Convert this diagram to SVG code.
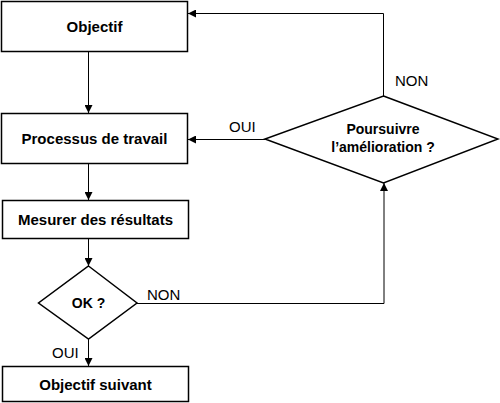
<svg xmlns="http://www.w3.org/2000/svg" width="500" height="403" viewBox="0 0 500 403">
<style>
.box{fill:#fff;stroke:#000;stroke-width:1.5}
.t{font-family:"Liberation Sans",Arial,sans-serif;font-weight:bold;font-size:15px;text-anchor:middle;fill:#000}
.td{font-family:"Liberation Sans",Arial,sans-serif;font-weight:bold;font-size:14px;text-anchor:middle;fill:#000}
.l{font-family:"Liberation Sans",Arial,sans-serif;font-size:15px;fill:#000}
.c{fill:none;stroke:#000;stroke-width:1}
</style>
<defs>
<marker id="ah" viewBox="0 0 10 10" refX="10" refY="5" markerWidth="8" markerHeight="8" markerUnits="userSpaceOnUse" orient="auto">
<path d="M0,0 L10,5 L0,10 z" fill="#000"/>
</marker>
</defs>
<g id="connectors">
<line class="c" x1="88.5" y1="51.5" x2="88.5" y2="113" marker-end="url(#ah)"/>
<line class="c" x1="88.5" y1="164" x2="88.5" y2="200" marker-end="url(#ah)"/>
<line class="c" x1="88.5" y1="238.5" x2="88.5" y2="266" marker-end="url(#ah)"/>
<line class="c" x1="88.5" y1="339" x2="88.5" y2="366" marker-end="url(#ah)"/>
<polyline class="c" points="137,303.5 384,303.5 384,183" marker-end="url(#ah)"/>
<line class="c" x1="265" y1="139.5" x2="188" y2="139.5" marker-end="url(#ah)"/>
<polyline class="c" points="383.5,96 383.5,13.5 188,13.5" marker-end="url(#ah)"/>
<text class="l" x="229" y="132">OUI</text>
<text class="l" x="395" y="86">NON</text>
<text class="l" x="147" y="300">NON</text>
<text class="l" x="52" y="358">OUI</text>
</g>
<g id="objectif">
<rect class="box" x="1.5" y="1.5" width="186" height="50"/>
<text class="t" x="94.5" y="31.5">Objectif</text>
</g>
<g id="processus">
<rect class="box" x="1.5" y="113.5" width="186" height="50"/>
<text class="t" x="94.5" y="144">Processus de travail</text>
</g>
<g id="mesurer">
<rect class="box" x="2.5" y="200.5" width="186" height="38"/>
<text class="t" x="95.5" y="224.5">Mesurer des résultats</text>
</g>
<g id="ok">
<polygon class="box" points="88.5,266 137,303 88.5,339 38.5,303"/>
<text class="td" x="88.5" y="308">OK ?</text>
</g>
<g id="suivant">
<rect class="box" x="2.5" y="366.5" width="186" height="35"/>
<text class="t" x="95.5" y="389.5">Objectif suivant</text>
</g>
<g id="poursuivre">
<polygon class="box" points="383.5,96 498,139 383.5,183 265,139"/>
<text class="td" x="383" y="134">Poursuivre</text>
<text class="td" x="383" y="152">l’amélioration ?</text>
</g>
</svg>
